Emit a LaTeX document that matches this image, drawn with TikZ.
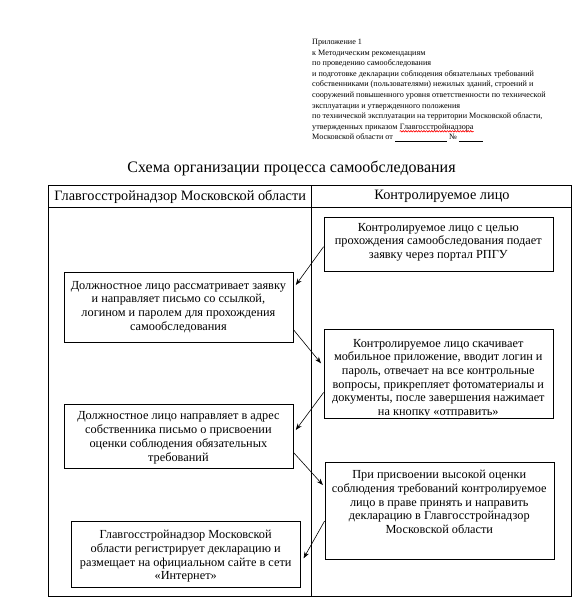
\documentclass[tikz,border=0pt]{standalone}
\usepackage{fontspec}
\setmainfont{Liberation Serif}
\usetikzlibrary{arrows.meta,calc,decorations.pathmorphing}
\begin{document}
\begin{tikzpicture}[x=1pt,y=-1pt,
  box/.style={draw=black, line width=0.8pt, inner sep=0pt, anchor=north west, minimum width=229.4pt},
  btext/.style={font=\fontsize{12.3}{13.7}\selectfont, align=center, anchor=north, inner sep=0pt},
  hdr/.style={font=\fontsize{8.15}{9}\selectfont, anchor=base west, inner sep=0pt},
  colhead/.style={font=\fontsize{14.3}{16}\selectfont, inner sep=0pt},
  arr/.style={-{Stealth[length=6.5pt,width=4.8pt]}, line width=0.6pt},
  frame/.style={line width=0.8pt}]
\useasboundingbox (0,0) rectangle (580,600);
% header block
\node[hdr] (h1) at (312,44.5) {Приложение 1};
\node[hdr] (h2) at (312,55.1) {к Методическим рекомендациям};
\node[hdr] (h3) at (312,65.7) {по проведению самообследования};
\node[hdr] (h4) at (312,76.3) {и подготовке декларации соблюдения обязательных требований};
\node[hdr] (h5) at (312,86.9) {собственниками (пользователями) нежилых зданий, строений и};
\node[hdr] (h6) at (312,97.5) {сооружений повышенного уровня ответственности по технической};
\node[hdr] (h7) at (312,108.1) {эксплуатации и утвержденного положения};
\node[hdr] (h8) at (312,118.7) {по технической эксплуатации на территории Московской области,};
\node[hdr] (h9) at (312,129.3) {утвержденных приказом};
\node[hdr] (h9b) at ([xshift=2.04pt]h9.base east) {Главгосстройнадзора};
\node[hdr] (h10) at (312,139.9) {Московской области от \rule[-1pt]{52pt}{0.4pt} № \rule[-1pt]{24pt}{0.4pt}};
\draw[red, line width=0.6pt, decorate, decoration={snake, amplitude=0.7pt, segment length=2.6pt}]
  ($(h9b.base west)+(0,2)$) -- ($(h9b.base east)+(0,2)$);
% title
\node[font=\fontsize{16}{18}\selectfont, inner sep=0pt] (title) at (291.5,168.5) {Схема организации процесса самообследования};
% table frame
\draw[frame] (48.6,185) rectangle (571.5,596.5);
\draw[frame] (48.6,207) -- (571.5,207);
\draw[frame] (311.8,185) -- (311.8,596.5);
\node[colhead] (hl) at (180.2,196.5) {Главгосстройнадзор Московской области};
\node[colhead] (hr) at (442,196.5) {Контролируемое лицо};
% boxes
\node[box, minimum height=53.7pt] (r1) at (323.6,217.3) {};
\node[btext] (r1t) at (438.3,223) {Контролируемое лицо с целью\\прохождения самообследования подает\\заявку через портал РПГУ};
\node[box, minimum height=70pt] (l1) at (63.6,271.7) {};
\node[btext] (l1t) at (178.4,281) {Должностное лицо рассматривает заявку\\и направляет письмо со ссылкой,\\логином и паролем для прохождения\\самообследования};
\node[box, minimum height=89pt] (r2) at (323.6,329.3) {};
\begin{scope}
\clip ([shift={(0.4,0.4)}]r2.north west) rectangle ([shift={(-0.4,-3.2)}]r2.south east);
\node[btext] (r2t) at (438.3,338.8) {Контролируемое лицо скачивает\\мобильное приложение, вводит логин и\\пароль, отвечает на все контрольные\\вопросы, прикрепляет фотоматериалы и\\документы, после завершения нажимает\\на кнопку «отправить»};
\end{scope}
\node[box, minimum height=64.3pt] (l2) at (63.6,404) {};
\node[btext] (l2t) at (178.4,411.7) {Должностное лицо направляет в адрес\\собственника письмо о присвоении\\оценки соблюдения обязательных\\требований};
\node[box, minimum height=96.7pt] (r3) at (324.6,462.3) {};
\node[btext] (r3t) at (439.3,470) {При присвоении высокой оценки\\соблюдения требований контролируемое\\лицо в праве принять и направить\\декларацию в Главгосстройнадзор\\Московской области};
\node[box, minimum height=66.3pt] (l3) at (71,521) {};
\node[btext] (l3t) at (185.7,530) {Главгосстройнадзор Московской\\области регистрирует декларацию и\\размещает на официальном сайте в сети\\«Интернет»};
% arrows
\draw[arr] ($(r1.north west)+(0,29.4)$) -- ($(l1.north east)+(2,13.3)$);
\draw[arr] ($(l1.south east)+(0,-12.4)$) -- ($(r2.north west)+(-2.6,34)$);
\draw[arr] ($(r2.south west)+(0,-26.6)$) -- ($(l2.north east)+(2,26)$);
\draw[arr] ($(l2.south east)+(0,-16.3)$) -- ($(r3.north west)+(-1.7,22.7)$);
\draw[arr] ($(r3.north west)+(0,58.7)$) -- ($(l3.north east)+(2.4,37.3)$);
\end{tikzpicture}
\end{document}
